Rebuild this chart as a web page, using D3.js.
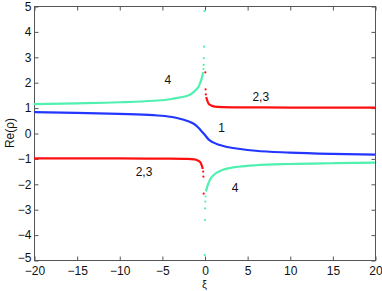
<!DOCTYPE html>
<html>
<head>
<meta charset="utf-8">
<script src="https://cdn.jsdelivr.net/npm/d3@7"></script>
<style>
  body { margin: 0; background: #fff; }
  svg { display: block; font-family: "Liberation Sans", Arial, sans-serif; }
</style>
</head>
<body>
<div id="chart"></div>
<script>
// branch 1 (blue)
const xiBlue  = [-20, -15, -10, -6, -4, -3, -2, -1.7, -1, -0.5, 0, 0.5, 1, 1.5, 2, 3, 4, 6, 10, 15, 20];
const valBlue = [0.82, 0.79, 0.75, 0.70, 0.64, 0.57, 0.47, 0.43, 0.3, 0.13, -0.06, -0.26, -0.37, -0.44, -0.49, -0.57, -0.62, -0.7, -0.77, -0.82, -0.85];

// branch 4 (cyan), left and right of the singularity
const xiCyanL  = [-20, -15, -10, -6, -4, -3, -2, -1.5, -1, -0.7, -0.5, -0.35, -0.25, -0.15];
const valCyanL = [1.14, 1.17, 1.21, 1.27, 1.33, 1.39, 1.47, 1.55, 1.7, 1.82, 1.98, 2.12, 2.25, 2.4];
const xiCyanR  = [0.15, 0.25, 0.35, 0.5, 0.7, 1, 1.5, 2, 3, 4, 6, 10, 15, 20];
const valCyanR = [-2.3, -2.2, -2.08, -1.95, -1.8, -1.68, -1.55, -1.47, -1.38, -1.33, -1.27, -1.22, -1.19, -1.17];
// sparse samples near xi = 0
const xiCyanDots  = [-0.12, -0.1, -0.08, -0.06, -0.02, 0.02, 0.06, 0.08, 0.1, 0.12];
const valCyanDots = [2.52, 2.68, 2.95, 3.4, 4.8, -4.8, -3.43, -2.97, -2.7, -2.5];

// branches 2,3 (red)
const xiRedL  = [-20, -10, -5, -2, -1.2, -0.8, -0.5, -0.3, -0.2];
const valRedL = [-1.0, -1.0, -1.01, -1.02, -1.04, -1.08, -1.15, -1.3, -1.42];
const xiRedR  = [0.2, 0.3, 0.5, 0.8, 1.2, 2, 5, 10, 20];
const valRedR = [1.42, 1.3, 1.15, 1.08, 1.04, 1.02, 1.01, 1.0, 1.0];
const xiRedDots  = [-0.16, -0.13, -0.1, 0.1, 0.13, 0.16];
const valRedDots = [-1.52, -1.72, -2.39, 2.39, 1.72, 1.52];

// curve labels
const labelText = ['4', '2,3', '1', '2,3', '4'];
const labelXi   = [-4.3, 6.6, 2.0, -7.1, 3.6];
const labelVal  = [2.09, 1.42, 0.2, -1.54, -2.17];

const xTicks = [-20, -15, -10, -5, 0, 5, 10, 15, 20];
const yTicks = [-5, -4, -3, -2, -1, 0, 1, 2, 3, 4, 5];

const width = 382, height = 291;
const margin = {top: 6, right: 7, bottom: 31, left: 34};
const fontSize = 12;

const svg = d3.select('#chart').append('svg')
	.attr('width', width)
	.attr('height', height);

const x = d3.scaleLinear().domain([-20, 20]).range([margin.left, width - margin.right]);
const y = d3.scaleLinear().domain([-5, 5]).range([height - margin.bottom, margin.top]);

const zip = (a, b) => a.map((d, i) => [d, b[i]]);

const line = d3.line()
	.x(d => x(d[0]))
	.y(d => y(d[1]))
	.curve(d3.curveMonotoneX);

const axisColor = '#555';
const styleAxis = g => {
	g.select('.domain').remove();
	g.selectAll('line').attr('stroke', axisColor);
	g.selectAll('text').attr('fill', '#111').attr('font-size', fontSize);
};

// box
svg.append('rect')
	.attr('x', x(-20) + 0.5)
	.attr('y', y(5) + 0.5)
	.attr('width', x(20) - x(-20))
	.attr('height', y(-5) - y(5))
	.attr('fill', 'none')
	.attr('stroke', axisColor);

svg.append('g')
	.attr('transform', `translate(0.5,${ y(-5) + 0.5 })`)
	.call(d3.axisBottom(x).tickValues(xTicks).tickSizeInner(-4).tickSizeOuter(0).tickPadding(6))
	.call(styleAxis);

svg.append('g')
	.attr('transform', `translate(0.5,${ y(5) + 0.5 })`)
	.call(d3.axisTop(x).tickValues(xTicks).tickSizeInner(-4).tickSizeOuter(0).tickFormat(''))
	.call(styleAxis);

svg.append('g')
	.attr('transform', `translate(${ x(-20) + 0.5 },0.5)`)
	.call(d3.axisLeft(y).tickValues(yTicks).tickSizeInner(-4).tickSizeOuter(0).tickPadding(3))
	.call(styleAxis)
	// lift the bottom label a little so it clears the "−20" below it
	.call(g => g.selectAll('.tick text').filter(d => d === -5).attr('dy', '0.1em'));

svg.append('g')
	.attr('transform', `translate(${ x(20) + 0.5 },0.5)`)
	.call(d3.axisRight(y).tickValues(yTicks).tickSizeInner(-4).tickSizeOuter(0).tickFormat(''))
	.call(styleAxis);

// axis titles
svg.append('text')
	.attr('transform', `translate(14,${ y(0) }) rotate(-90)`)
	.attr('text-anchor', 'middle')
	.attr('font-size', fontSize)
	.attr('fill', '#111')
	.text('Re(ρ)');

svg.append('text')
	.attr('x', x(0))
	.attr('y', 288)
	.attr('text-anchor', 'middle')
	.attr('font-size', 11)
	.attr('fill', '#111')
	.text('ξ');

const blue = '#2236ff', cyan = '#50f0b0', red = '#ff1010';

const series = [
	{pts: zip(xiBlue, valBlue), color: blue},
	{pts: zip(xiCyanL, valCyanL), color: cyan},
	{pts: zip(xiCyanR, valCyanR), color: cyan},
	{pts: zip(xiRedL, valRedL), color: red},
	{pts: zip(xiRedR, valRedR), color: red}
];

svg.append('g')
	.selectAll('path')
	.data(series)
	.enter().append('path')
	.attr('d', d => line(d.pts))
	.attr('fill', 'none')
	.attr('stroke', d => d.color)
	.attr('stroke-width', 2.2);

const dots = [
	...zip(xiCyanDots, valCyanDots).map(p => ({p, color: cyan})),
	...zip(xiRedDots, valRedDots).map(p => ({p, color: red}))
];

svg.append('g')
	.selectAll('circle')
	.data(dots)
	.enter().append('circle')
	.attr('cx', d => x(d.p[0]))
	.attr('cy', d => y(d.p[1]))
	.attr('r', 1.1)
	.attr('fill', d => d.color);

svg.append('g')
	.selectAll('text')
	.data(labelText)
	.enter().append('text')
	.attr('x', (d, i) => x(labelXi[i]))
	.attr('y', (d, i) => y(labelVal[i]))
	.attr('dy', '0.35em')
	.attr('text-anchor', 'middle')
	.attr('font-size', fontSize)
	.attr('fill', '#111')
	.text(d => d);
</script>
</body>
</html>
